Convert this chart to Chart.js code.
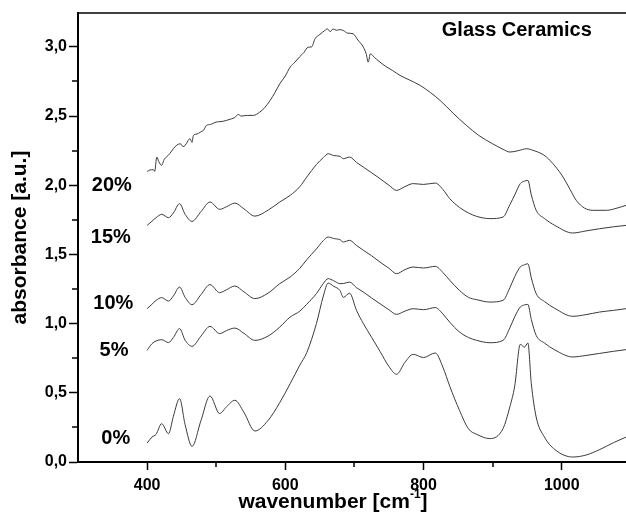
<!DOCTYPE html>
<html>
<head>
<meta charset="utf-8">
<script src="https://cdn.jsdelivr.net/npm/chart.js@4"></script>
<style>
  html, body { margin: 0; padding: 0; background: #fff; }
  #wrap { width: 626px; height: 525px; }
</style>
</head>
<body>
<div id="wrap"><canvas id="irChart" width="626" height="525"></canvas></div>
<script>
// ===== Data =====
// shared wavenumber grid for the smooth 0% .. 15% spectra
const wavenumber = [400, 407, 413, 421, 431, 438, 447, 455, 465, 478, 491, 505, 515, 527, 540, 556, 575, 592, 607, 621,
  631, 645, 655, 662, 670, 679, 684, 693, 703, 713, 725, 737, 750, 761, 773, 785, 800, 817, 828, 838,
  852, 865, 877, 896, 915, 925, 932, 940, 946, 951, 956, 963, 975, 990, 1016, 1035, 1055, 1075, 1093];

const abs0 = [0.137, 0.18, 0.20, 0.277, 0.205, 0.33, 0.458, 0.27, 0.113, 0.30, 0.477, 0.35, 0.40, 0.446, 0.36, 0.224, 0.30, 0.43, 0.566, 0.70,
  0.79, 1.0, 1.2, 1.293, 1.27, 1.24, 1.19, 1.22, 1.096, 1.0, 0.90, 0.80, 0.69, 0.634, 0.72, 0.778, 0.755, 0.788, 0.686, 0.547,
  0.374, 0.24, 0.20, 0.169, 0.241, 0.40, 0.55, 0.85, 0.83, 0.86, 0.566, 0.325, 0.18, 0.09, 0.036, 0.05, 0.09, 0.14, 0.18];

const abs5 = [0.807, 0.855, 0.875, 0.884, 0.863, 0.90, 0.964, 0.88, 0.836, 0.91, 0.98, 0.928, 0.95, 0.968, 0.93, 0.879, 0.91, 0.975, 1.048, 1.09,
  1.14, 1.217, 1.29, 1.325, 1.31, 1.289, 1.29, 1.30, 1.26, 1.228, 1.185, 1.144, 1.10, 1.067, 1.09, 1.108, 1.101, 1.116, 1.07, 1.01,
  0.94, 0.90, 0.879, 0.862, 0.879, 0.97, 1.05, 1.12, 1.135, 1.139, 1.03, 0.915, 0.86, 0.81, 0.759, 0.77, 0.785, 0.80, 0.812];

const abs10 = [1.108, 1.14, 1.168, 1.188, 1.163, 1.20, 1.264, 1.19, 1.137, 1.21, 1.282, 1.224, 1.245, 1.272, 1.23, 1.181, 1.22, 1.289, 1.337, 1.40,
  1.462, 1.54, 1.60, 1.626, 1.615, 1.607, 1.59, 1.602, 1.565, 1.53, 1.49, 1.445, 1.40, 1.361, 1.39, 1.409, 1.402, 1.414, 1.37, 1.313,
  1.24, 1.19, 1.173, 1.156, 1.168, 1.26, 1.34, 1.41, 1.425, 1.433, 1.33, 1.217, 1.16, 1.11, 1.053, 1.065, 1.084, 1.096, 1.108];

const abs15 = [1.71, 1.74, 1.766, 1.79, 1.766, 1.80, 1.867, 1.79, 1.739, 1.81, 1.879, 1.826, 1.845, 1.871, 1.83, 1.777, 1.82, 1.879, 1.927, 1.99,
  2.059, 2.15, 2.20, 2.228, 2.215, 2.209, 2.192, 2.204, 2.165, 2.131, 2.09, 2.048, 2.00, 1.963, 1.99, 2.012, 2.006, 2.016, 1.97, 1.903,
  1.84, 1.80, 1.775, 1.759, 1.77, 1.86, 1.93, 2.012, 2.03, 2.035, 1.93, 1.819, 1.76, 1.71, 1.655, 1.67, 1.686, 1.70, 1.71];

// the 20% spectrum is noisy, so it has its own sampling
const wavenumber20 = [400, 404, 409, 411, 414, 417, 421, 425, 428, 433, 438, 443, 448, 452, 455, 459, 462, 465, 467, 472,
  477, 482, 486, 492, 500, 507, 515, 522, 527, 532, 536, 545, 554, 563, 570, 578, 585, 592, 600, 607,
  614, 621, 627, 633, 638, 643, 650, 657, 661, 665, 669, 674, 679, 684, 690, 698, 705, 713, 717, 720,
  723, 726, 732, 737, 745, 755, 766, 780, 795, 810, 824, 843, 862, 880, 900, 915, 925, 937, 949, 960,
  970, 978, 990, 1002, 1012, 1021, 1033, 1045, 1065, 1080, 1093];
const abs20 = [2.10, 2.11, 2.113, 2.10, 2.204, 2.17, 2.144, 2.19, 2.204, 2.23, 2.264, 2.29, 2.30, 2.28, 2.288, 2.32, 2.337, 2.31, 2.36, 2.37,
  2.384, 2.40, 2.433, 2.44, 2.457, 2.46, 2.469, 2.48, 2.49, 2.512, 2.50, 2.505, 2.505, 2.529, 2.56, 2.613, 2.67, 2.734, 2.79, 2.854,
  2.89, 2.93, 2.96, 2.998, 3.00, 3.059, 3.09, 3.118, 3.13, 3.11, 3.13, 3.12, 3.125, 3.118, 3.10, 3.095, 3.05, 2.998, 2.95, 2.89,
  2.95, 2.94, 2.91, 2.89, 2.86, 2.83, 2.794, 2.76, 2.722, 2.67, 2.613, 2.52, 2.433, 2.36, 2.30, 2.26, 2.24, 2.25, 2.264, 2.25,
  2.23, 2.204, 2.14, 2.059, 1.97, 1.891, 1.835, 1.819, 1.819, 1.835, 1.855];

const seriesNames = ['0%', '5%', '10%', '15%', '20%'];
const yTicks = [0, 0.5, 1.0, 1.5, 2.0, 2.5, 3.0];
const xTicks = [400, 600, 800, 1000];

// ===== Helpers =====
const FONT = '"Liberation Sans", Arial, Helvetica, sans-serif';
const toPoints = (xs, ys) => xs.map((v, i) => ({ x: v, y: ys[i] }));
const comma = v => v.toFixed(1).replace('.', ',');

function lineSet(label, pts) {
    return {
        label: label,
        data: pts,
        borderColor: '#3a3a3a',
        borderWidth: 1,
        pointRadius: 0,
        fill: false,
        cubicInterpolationMode: 'monotone'
    };
}

// ===== Extra drawing: frame top, minor ticks, text labels =====
const extras = {
    id: 'extras',
    afterDraw(chart) {
        const { ctx, chartArea: a } = chart;
        const x = chart.scales.x, y = chart.scales.y;
        ctx.save();
        ctx.strokeStyle = '#000';
        ctx.lineWidth = 1.5;
        ctx.beginPath();
        ctx.moveTo(a.left, a.top);
        ctx.lineTo(a.right, a.top);
        ctx.stroke();

        // minor ticks
        ctx.lineWidth = 1.5;
        ctx.beginPath();
        [500, 700, 900].forEach(v => {
            const px = Math.round(x.getPixelForValue(v));
            ctx.moveTo(px, a.bottom);
            ctx.lineTo(px, a.bottom + 5);
        });
        for (let v = 0.25; v < y.max; v += 0.5) {
            const py = Math.round(y.getPixelForValue(v));
            ctx.moveTo(a.left, py);
            ctx.lineTo(a.left - 6, py);
        }
        ctx.stroke();

        // concentration labels next to the curves
        ctx.fillStyle = '#000';
        ctx.font = 'bold 20px ' + FONT;
        ctx.textAlign = 'right';
        ctx.textBaseline = 'middle';
        const tags = [
            { t: seriesNames[4], x: 378, y: 2.0 },
            { t: seriesNames[3], x: 376.5, y: 1.622 },
            { t: seriesNames[2], x: 380, y: 1.145 },
            { t: seriesNames[1], x: 373, y: 0.809 },
            { t: seriesNames[0], x: 375.5, y: 0.169 }
        ];
        tags.forEach(g => ctx.fillText(g.t, x.getPixelForValue(g.x), y.getPixelForValue(g.y)));

        // inset title
        ctx.textAlign = 'center';
        ctx.fillText('Glass Ceramics', x.getPixelForValue(935), y.getPixelForValue(3.12));

        // x axis title with superscript
        const main = 'wavenumber [cm', sup = '-1', end = ']';
        ctx.font = 'bold 21px ' + FONT;
        const w1 = ctx.measureText(main).width, w3 = ctx.measureText(end).width;
        ctx.font = 'bold 12px ' + FONT;
        const w2 = ctx.measureText(sup).width;
        const sx = 333 - (w1 + w2 + w3) / 2;
        const base = 508;
        ctx.textAlign = 'left';
        ctx.textBaseline = 'alphabetic';
        ctx.font = 'bold 21px ' + FONT;
        ctx.fillText(main, sx, base);
        ctx.font = 'bold 12px ' + FONT;
        ctx.fillText(sup, sx + w1, base - 10);
        ctx.font = 'bold 21px ' + FONT;
        ctx.fillText(end, sx + w1 + w2, base);
        ctx.restore();
    }
};

// ===== Chart =====
const ctx = document.getElementById('irChart').getContext('2d');
new Chart(ctx, {
    type: 'line',
    data: {
        datasets: [
            lineSet(seriesNames[0], toPoints(wavenumber, abs0)),
            lineSet(seriesNames[1], toPoints(wavenumber, abs5)),
            lineSet(seriesNames[2], toPoints(wavenumber, abs10)),
            lineSet(seriesNames[3], toPoints(wavenumber, abs15)),
            lineSet(seriesNames[4], toPoints(wavenumber20, abs20))
        ]
    },
    options: {
        responsive: false,
        devicePixelRatio: 1,
        animation: false,
        layout: { padding: { top: 13, right: 0, left: 0, bottom: 0 } },
        plugins: { legend: { display: false }, tooltip: { enabled: false } },
        scales: {
            x: {
                type: 'linear',
                min: 300,
                max: 1093,
                afterFit: s => { s.height = 63; },
                afterBuildTicks: s => { s.ticks = xTicks.map(v => ({ value: v })); },
                ticks: {
                    color: '#000',
                    font: { family: FONT, size: 16, weight: 'bold' },
                    padding: 6,
                    maxRotation: 0,
                    callback: v => String(v)
                },
                grid: { drawOnChartArea: false, drawTicks: true, tickLength: 8, tickColor: '#000', tickWidth: 1.5 },
                border: { color: '#000', width: 2 }
            },
            y: {
                min: 0,
                max: 3.245,
                afterFit: s => { s.width = 78; },
                afterBuildTicks: s => { s.ticks = yTicks.map(v => ({ value: v })); },
                ticks: {
                    color: '#000',
                    font: { family: FONT, size: 16, weight: 'bold' },
                    padding: 2,
                    callback: v => comma(v)
                },
                title: {
                    display: true,
                    text: 'absorbance [a.u.]',
                    color: '#000',
                    font: { family: FONT, size: 21, weight: 'bold' },
                    padding: { top: 8, bottom: 0 }
                },
                grid: { drawOnChartArea: false, drawTicks: true, tickLength: 9, tickColor: '#000', tickWidth: 1.5 },
                border: { color: '#000', width: 2 }
            }
        }
    },
    plugins: [extras]
});
</script>
</body>
</html>
